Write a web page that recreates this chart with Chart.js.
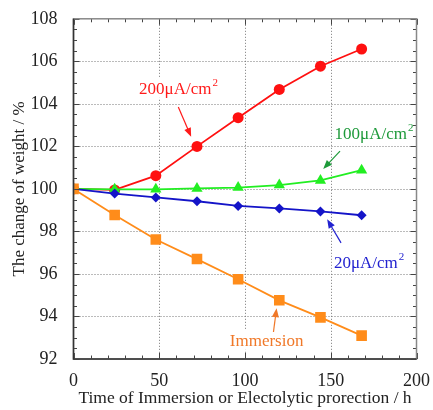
<!DOCTYPE html>
<html>
<head>
<meta charset="utf-8">
<script src="https://cdn.jsdelivr.net/npm/chart.js@4.4.1/dist/chart.umd.min.js"></script>
<style>
  html, body { margin: 0; padding: 0; background: #fff; }
  #wrap { width: 433px; height: 410px; }
</style>
</head>
<body>
<div id="wrap"><canvas id="chart"></canvas></div>
<script>
const hours = [0, 24, 48, 72, 96, 120, 144, 168];
const cd200 = [100, 99.95, 100.62, 102.0, 103.35, 104.68, 105.77, 106.58];
const cd100 = [100, 99.98, 99.98, 100.02, 100.06, 100.18, 100.4, 100.88];
const cd20 = [100, 99.78, 99.6, 99.42, 99.2, 99.08, 98.94, 98.76];
const immersion = [100, 98.77, 97.62, 96.7, 95.75, 94.76, 93.96, 93.1];
const xTicks = [0, 50, 100, 150, 200];
const yTicks = [92, 94, 96, 98, 100, 102, 104, 106, 108];

const serif = "'Liberation Serif', 'DejaVu Serif', serif";

// labels with arrows, placed in data units
const notes = [
  { text: "200\u03bcA/cm", color: "#ff1a1a", x: 61.1, y: 104.47, from: [61.1, 103.85], to: [68.6, 102.45] },
  { text: "100\u03bcA/cm", color: "#1e9a3a", x: 175.1, y: 102.34, from: [155.4, 101.78], to: [145.6, 100.94] },
  { text: "20\u03bcA/cm", color: "#2222d0", x: 172.2, y: 96.29, from: [156.0, 97.46], to: [147.9, 98.57] },
  { text: "Immersion", color: "#f07828", x: 112.6, y: 92.62, from: [116.6, 93.27], to: [118.4, 94.39], plain: true }
];

function range(a, b, step) {
  const out = [];
  for (let v = a; v <= b + 1e-9; v += step) out.push(+v.toFixed(3));
  return out;
}

function labelBox(ctx, n, xs, ys) {
  ctx.font = "17px " + serif;
  const w = ctx.measureText(n.text).width + (n.plain ? 0 : 6);
  return { x: xs.getPixelForValue(n.x) - w / 2, y: ys.getPixelForValue(n.y), w: w };
}

const framePlugin = {
  id: "frame",
  beforeDatasetsDraw(chart) {
    const { ctx, chartArea: a, scales } = chart;
    const xs = scales.x, ys = scales.y;
    ctx.save();
    ctx.strokeStyle = "#777";
    ctx.lineWidth = 1;
    ctx.setLineDash([1, 2]);
    xTicks.slice(1, -1).forEach(v => {
      const px = Math.round(xs.getPixelForValue(v)) + 0.5;
      ctx.beginPath(); ctx.moveTo(px, a.top); ctx.lineTo(px, a.bottom); ctx.stroke();
    });
    yTicks.slice(1, -1).forEach(v => {
      const py = Math.round(ys.getPixelForValue(v)) + 0.5;
      ctx.beginPath(); ctx.moveTo(a.left, py); ctx.lineTo(a.right, py); ctx.stroke();
    });
    ctx.setLineDash([]);
    // white boxes behind the labels
    ctx.fillStyle = "#fff";
    notes.forEach(n => {
      const b = labelBox(ctx, n, xs, ys);
      ctx.fillRect(b.x - 2, b.y - 16, b.w + 4, 20);
    });
    ctx.restore();
  },
  afterDatasetsDraw(chart) {
    const { ctx, chartArea: a, scales } = chart;
    const xs = scales.x, ys = scales.y;
    ctx.save();
    // inward ticks on all four sides
    ctx.strokeStyle = "#444";
    ctx.lineWidth = 1;
    range(0, 200, 10).forEach(v => {
      const px = Math.round(xs.getPixelForValue(v)) + 0.5;
      const len = v % 50 === 0 ? 6 : 3.5;
      ctx.beginPath();
      ctx.moveTo(px, a.bottom); ctx.lineTo(px, a.bottom - len);
      ctx.moveTo(px, a.top); ctx.lineTo(px, a.top + len);
      ctx.stroke();
    });
    range(92, 108, 0.5).forEach(v => {
      const py = Math.round(ys.getPixelForValue(v)) + 0.5;
      const len = v % 2 === 0 ? 6 : 3.5;
      ctx.beginPath();
      ctx.moveTo(a.left, py); ctx.lineTo(a.left + len, py);
      ctx.moveTo(a.right, py); ctx.lineTo(a.right - len, py);
      ctx.stroke();
    });
    ctx.strokeStyle = "#888";
    ctx.lineWidth = 1.5;
    ctx.strokeRect(a.left, a.top, a.right - a.left, a.bottom - a.top);
    ctx.strokeStyle = "#333";
    ctx.beginPath();
    ctx.moveTo(a.left, a.top); ctx.lineTo(a.left, a.bottom); ctx.lineTo(a.right, a.bottom);
    ctx.stroke();

    // labels and arrows
    notes.forEach(n => {
      const b = labelBox(ctx, n, xs, ys);
      ctx.fillStyle = n.color;
      ctx.textBaseline = "alphabetic";
      ctx.textAlign = "left";
      ctx.font = "17px " + serif;
      ctx.fillText(n.text, b.x, b.y);
      if (!n.plain) {
        const tw = ctx.measureText(n.text).width;
        ctx.font = "11px " + serif;
        ctx.fillText("2", b.x + tw + 1, b.y - 8);
      }
      const x1 = xs.getPixelForValue(n.from[0]), y1 = ys.getPixelForValue(n.from[1]);
      const x2 = xs.getPixelForValue(n.to[0]), y2 = ys.getPixelForValue(n.to[1]);
      const ang = Math.atan2(y2 - y1, x2 - x1);
      ctx.strokeStyle = n.color;
      ctx.lineWidth = 1.2;
      ctx.beginPath();
      ctx.moveTo(x1, y1);
      ctx.lineTo(x2 - 6 * Math.cos(ang), y2 - 6 * Math.sin(ang));
      ctx.stroke();
      ctx.beginPath();
      ctx.moveTo(x2, y2);
      ctx.lineTo(x2 - 9 * Math.cos(ang) + 3.5 * Math.sin(ang), y2 - 9 * Math.sin(ang) - 3.5 * Math.cos(ang));
      ctx.lineTo(x2 - 9 * Math.cos(ang) - 3.5 * Math.sin(ang), y2 - 9 * Math.sin(ang) + 3.5 * Math.cos(ang));
      ctx.closePath();
      ctx.fill();
    });
    ctx.restore();
  }
};

function series(data, color, style, radius) {
  return {
    data: hours.map((h, i) => ({ x: h, y: data[i] })),
    borderColor: color,
    backgroundColor: color,
    borderWidth: 1.8,
    pointStyle: style,
    pointRadius: radius,
    pointBorderWidth: 0,
    pointHoverRadius: radius,
    tension: 0
  };
}

new Chart(document.getElementById("chart"), {
  type: "line",
  data: {
    datasets: [
      series(immersion, "#ff8c1a", "rect", 7.5),
      series(cd20, "#1414c8", "rectRot", 5),
      series(cd100, "#22ee22", "triangle", 6.5),
      series(cd200, "#ff1010", "circle", 5.5)
    ]
  },
  options: {
    responsive: true,
    maintainAspectRatio: false,
    animation: false,
    layout: { padding: { top: 15, right: 14, left: 0, bottom: 0 } },
    plugins: { legend: { display: false }, tooltip: { enabled: false } },
    scales: {
      x: {
        type: "linear",
        min: 0,
        max: 200,
        afterBuildTicks: s => { s.ticks = xTicks.map(v => ({ value: v })); },
        afterFit: s => { s.height = 51; },
        grid: { display: false },
        border: { display: false },
        ticks: { color: "#222", font: { family: serif, size: 18 }, padding: 3 },
        title: {
          display: true,
          text: "Time of Immersion or Electolytic prorection / h",
          color: "#222",
          font: { family: serif, size: 17.5 },
          padding: { top: 0, bottom: 1 }
        }
      },
      y: {
        min: 92,
        max: 108,
        afterBuildTicks: s => { s.ticks = yTicks.map(v => ({ value: v })); },
        afterFit: s => { s.width = 73.5; },
        grid: { display: false },
        border: { display: false },
        ticks: { color: "#222", font: { family: serif, size: 18 }, padding: 8 },
        title: {
          display: true,
          text: "The change of weight / %",
          color: "#222",
          font: { family: serif, size: 17 },
          padding: { top: 9, bottom: 0 }
        }
      }
    }
  },
  plugins: [framePlugin]
});
</script>
</body>
</html>
